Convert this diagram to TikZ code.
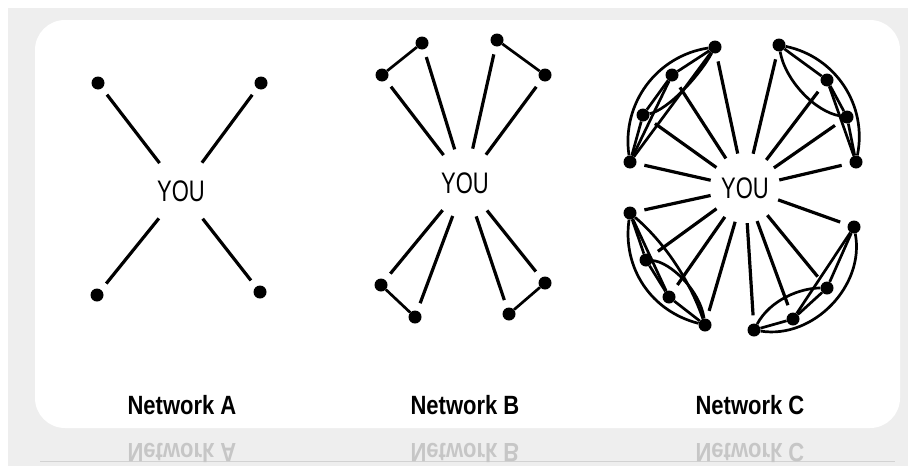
\documentclass[tikz,border=0pt]{standalone}
\usepackage{fontspec}
\setmainfont{Liberation Sans}
\usepackage{graphicx}
\newcommand{\hstretch}[2]{\scalebox{1}[#1]{#2}}

\begin{document}
\begin{tikzpicture}[x=1pt, y=-1pt]
  % Definir estilos
  \tikzstyle{dot}=[circle, fill=black, inner sep=0pt, minimum size=13pt]
  \tikzstyle{you}=[circle, inner sep=0pt, minimum size=70pt, font=\fontsize{22}{22}\selectfont]
  \tikzstyle{link}=[line width=3.2pt, shorten >=8pt]
  \tikzstyle{tie}=[line width=2.7pt]
  \tikzstyle{caption}=[font=\bfseries\fontsize{22}{22}\selectfont]
  \tikzstyle{mirror}=[caption, yscale=-1, text=gray!45]

  % Fondo y marco blanco
  \useasboundingbox (0,0) rectangle (912,466);
  \fill[white] (0,0) rectangle (912,466);
  \fill[gray!13] (8,8) rectangle (908,466);
  \fill[white, rounded corners=30pt] (35,20) rectangle (900,428);
  \draw[gray!35, line width=0.8pt] (40,461) -- (895,461);

  % Red A (cuatro contactos sueltos)
  \node[you] (youa) at (181,191) {\hstretch{1.35}{YOU}};
  \node[dot] (a1) at (98,83) {};
  \node[dot] (a2) at (261,83) {};
  \node[dot] (a3) at (260,292) {};
  \node[dot] (a4) at (97,295) {};
  \foreach \i in {1,...,4}
    \draw[link] (youa) -- (a\i);

  % Red B (parejas de contactos)
  \node[you] (youb) at (465,183) {\hstretch{1.35}{YOU}};
  \node[dot] (b1) at (382,75) {};
  \node[dot] (b2) at (422,43) {};
  \node[dot] (b3) at (497,40) {};
  \node[dot] (b4) at (545,75) {};
  \node[dot] (b5) at (545,283) {};
  \node[dot] (b6) at (509,314) {};
  \node[dot] (b7) at (415,317) {};
  \node[dot] (b8) at (381,285) {};
  \foreach \i in {1,...,8}
    \draw[link] (youb) -- (b\i);
  \draw[tie] (b1) -- (b2);
  \draw[tie] (b3) -- (b4);
  \draw[tie] (b5) -- (b6);
  \draw[tie] (b7) -- (b8);

  % Red C (grupos de cuatro, todos conectados)
  \node[you] (youc) at (745,188) {\hstretch{1.35}{YOU}};
  \node[dot] (c1) at (630,162) {};
  \node[dot] (c2) at (643,115) {};
  \node[dot] (c3) at (672,75) {};
  \node[dot] (c4) at (715,47) {};
  \node[dot] (c5) at (779,45) {};
  \node[dot] (c6) at (827,80) {};
  \node[dot] (c7) at (847,117) {};
  \node[dot] (c8) at (856,162) {};
  \node[dot] (c9) at (854,227) {};
  \node[dot] (c10) at (827,288) {};
  \node[dot] (c11) at (793,319) {};
  \node[dot] (c12) at (754,330) {};
  \node[dot] (c13) at (705,325) {};
  \node[dot] (c14) at (669,297) {};
  \node[dot] (c15) at (646,260) {};
  \node[dot] (c16) at (630,213) {};
  \foreach \i in {1,...,16}
    \draw[link] (youc) -- (c\i);

  % grupo arriba izquierda
  \draw[tie] (c1) -- (c2) -- (c3) -- (c4);
  \draw[tie] (c1) -- (c3);
  \draw[tie] (c1) -- (c4);
  \draw[tie] (c2) .. controls (668,110) and (700,75) .. (c4);
  \draw[tie] (c1) to[bend left=45] (c4);
  % grupo arriba derecha
  \draw[tie] (c5) -- (c6) -- (c7) -- (c8);
  \draw[tie] (c6) -- (c8);
  \draw[tie] (c5) .. controls (785,80) and (815,112) .. (c7);
  \draw[tie] (c5) to[bend left=45] (c8);
  % grupo abajo derecha
  \draw[tie] (c9) -- (c10) -- (c11) -- (c12);
  \draw[tie] (c9) -- (c11);
  \draw[tie] (c12) .. controls (770,300) and (800,288) .. (c10);
  \draw[tie] (c9) to[bend left=55] (c12);
  % grupo abajo izquierda
  \draw[tie] (c13) -- (c14) -- (c15) -- (c16);
  \draw[tie] (c16) -- (c14);
  \draw[tie] (c15) .. controls (670,262) and (700,290) .. (c13);
  \draw[tie] (c16) to[bend right=42] (c13);
  \draw[tie] (c16) .. controls (665,243) and (690,281) .. (c13);

  % Titulos y su reflejo
  \node[caption] (capa) at (182,405) {\hstretch{1.2}{Network A}};
  \node[caption] (capb) at (465,405) {\hstretch{1.2}{Network B}};
  \node[caption] (capc) at (750,405) {\hstretch{1.2}{Network C}};
  \node[mirror] (refa) at (182,453) {\hstretch{1.2}{Network A}};
  \node[mirror] (refb) at (465,453) {\hstretch{1.2}{Network B}};
  \node[mirror] (refc) at (750,453) {\hstretch{1.2}{Network C}};
\end{tikzpicture}
\end{document}
